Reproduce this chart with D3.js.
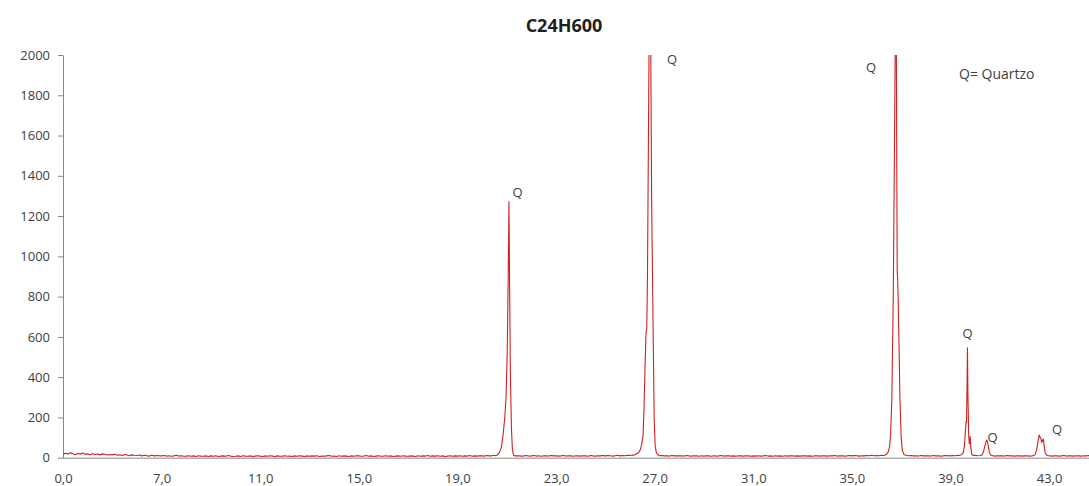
<!DOCTYPE html>
<html>
<head>
<meta charset="utf-8">
<script src="https://cdn.jsdelivr.net/npm/d3@7"></script>
<style>
  html, body { margin: 0; padding: 0; background: #fff; }
  svg { display: block; }
  text { font-family: "Open Sans", "DejaVu Sans", sans-serif; }
</style>
</head>
<body>
<svg id="chart" width="1089" height="486"></svg>
<script>
// ---- Data ---------------------------------------------------------------
const chartTitle = "C24H600";

// Background scan: 2θ grid starting at scanStart, stepping scanStep
const scanStart = 3.0;
const scanStep = 0.1;
const backgroundCounts = [
  16,22,18,24,20,15,21,19,23,17,   // 3
  19,15,20,16,18,14,19,17,13,16,   // 4
  14,17,12,15,11,16,13,10,14,12,   // 5
  11,13,9,12,10,8,12,9,11,10,      // 6
  9,11,8,10,7,9,12,8,10,7,         // 7
  8,10,7,9,6,10,8,7,9,6,           // 8
  9,7,10,6,8,9,7,11,8,6,           // 9
  7,9,6,10,8,7,9,6,8,10,           // 10
  8,6,9,7,10,8,6,9,7,8,            // 11
  10,7,8,6,9,7,10,8,6,9,           // 12
  7,9,8,10,6,8,7,9,11,7,           // 13
  8,6,10,7,9,8,6,9,7,10,           // 14
  9,7,8,11,7,9,6,8,10,7,           // 15
  8,10,7,9,6,8,9,7,10,8,           // 16
  7,9,8,6,10,7,9,8,11,7,           // 17
  9,8,10,7,9,6,8,10,7,9,           // 18
  8,10,7,9,8,11,7,9,8,10,          // 19
  9,8,11,9,10,12,10,9,11,10,       // 20
  10,9,8,11,9,10,8,9,11,8,         // 21
  9,11,8,10,7,9,10,8,11,9,         // 22
  10,8,9,11,8,10,9,7,10,9,         // 23
  8,10,9,7,11,9,8,10,9,11,         // 24
  9,11,10,8,10,12,9,11,10,12,      // 25
  11,13,12,14,12,13,14,12,13,12,   // 26
  14,12,10,11,9,10,8,11,9,10,      // 27
  9,10,8,11,9,8,10,9,7,10,         // 28
  8,10,9,7,10,8,9,11,8,9,          // 29
  10,8,9,7,10,9,8,10,9,7,          // 30
  9,8,10,8,9,11,8,9,7,10,          // 31
  8,9,7,10,8,9,10,8,9,8,           // 32
  9,10,8,9,7,10,9,8,10,9,          // 33
  8,10,9,11,8,9,10,8,9,11,         // 34
  9,11,10,8,10,9,11,10,12,10,      // 35
  11,10,12,11,13,12,14,13,12,13,   // 36
  14,13,12,10,11,9,10,8,11,9,      // 37
  9,10,8,11,9,10,8,9,11,10,        // 38
  9,11,10,12,11,12,11,12,10,11,    // 39
  12,10,11,9,10,11,10,9,8,10,      // 40
  9,10,8,11,9,10,8,9,10,8,         // 41
  9,10,8,9,11,10,9,10,11,9,        // 42
  10,8,9,10,8,9,11,8,10,9,         // 43
  8,10,9,8,10,9,11,8,10,9          // 44
];

// Reflection profiles (2θ, counts)
const peak1Angles = [20.55,20.62,20.70,20.78,20.85,20.92,20.97,21.02,21.06,21.09,21.12,21.15,21.19,21.23,21.28,21.35];
const peak1Counts = [10,14,25,50,110,200,290,520,900,1272,800,400,150,40,12,9];

const peak2Angles = [26.15,26.25,26.35,26.42,26.48,26.53,26.57,26.61,26.65,26.68,26.71,26.81,26.88,26.94,26.98,27.02,27.07,27.15];
const peak2Counts = [12,18,25,40,70,110,250,450,620,640,900,2700,1250,620,200,60,25,13];

const peak3Angles = [36.35,36.42,36.48,36.53,36.57,36.62,36.68,36.79,36.84,36.855,36.88,36.95,37.00,37.05,37.12,37.20];
const peak3Counts = [13,18,30,55,110,280,800,2500,920,900,780,300,100,35,15,12];

const peak4Angles = [39.35,39.45,39.52,39.57,39.61,39.635,39.65,39.67,39.69,39.71,39.74,39.765,39.78,39.80,39.82,39.86,39.92];
const peak4Counts = [11,15,25,60,140,180,175,330,546,300,110,70,75,105,60,18,11];

const peak5Angles = [40.20,40.28,40.34,40.39,40.43,40.47,40.50,40.54,40.58,40.64,40.72];
const peak5Counts = [11,14,30,55,75,88,80,55,25,12,10];

const peak6Angles = [42.35,42.43,42.49,42.55,42.60,42.64,42.67,42.70,42.74,42.77,42.80,42.84,42.90,42.95];
const peak6Counts = [10,15,35,80,113,100,95,75,88,92,60,25,12,10];

// Axis ticks
const xTickValues = [3,7,11,15,19,23,27,31,35,39,43];
const xTickLabels = ["0,0","7,0","11,0","15,0","19,0","23,0","27,0","31,0","35,0","39,0","43,0"];
const yTickValues = [0,200,400,600,800,1000,1200,1400,1600,1800,2000];

// Phase markers
const markerAngles = [21.44,27.71,35.78,39.69,40.71,43.32];
const markerCounts = [1315,1976,1938,617,100,138];
const markerText = "Q";
const legendText = "Q= Quartzo";

// ---- Build the series ---------------------------------------------------
const peaks = [
  [peak1Angles, peak1Counts], [peak2Angles, peak2Counts], [peak3Angles, peak3Counts],
  [peak4Angles, peak4Counts], [peak5Angles, peak5Counts], [peak6Angles, peak6Counts]
];
const windows = peaks.map(([a]) => [a[0], a[a.length - 1]]);
let points = backgroundCounts
  .map((c, i) => ({ x: +(scanStart + i * scanStep).toFixed(2), y: c }))
  .filter(p => !windows.some(([lo, hi]) => p.x >= lo && p.x <= hi));
peaks.forEach(([a, c]) => a.forEach((x, i) => points.push({ x, y: c[i] })));
points.sort((p, q) => p.x - q.x);

// ---- Layout -------------------------------------------------------------
const plot = { left: 63, right: 1089, top: 55, bottom: 457.7 };

const svg = d3.select("#chart");
const x = d3.scaleLinear().domain([3, 44.62]).range([plot.left, plot.right]);
const y = d3.scaleLinear().domain([0, 2000]).range([plot.bottom, plot.top]);

const axisColor = "#888888";
const textColor = "#404040";

// Title
svg.append("text")
  .attr("x", 564).attr("y", 32)
  .attr("text-anchor", "middle")
  .attr("font-size", 18).attr("font-weight", 700)
  .attr("fill", "#1e1e1e")
  .text(chartTitle);

// X axis (category-style labels, no ticks)
const gx = svg.append("g")
  .attr("transform", `translate(0,${plot.bottom})`)
  .call(d3.axisBottom(x)
    .tickValues(xTickValues)
    .tickFormat((d, i) => xTickLabels[i])
    .tickSize(0).tickSizeOuter(0).tickPadding(16));
gx.select(".domain").attr("stroke", axisColor).attr("d", `M${plot.left},0.5H${plot.right}`);
gx.selectAll("text").attr("font-size", 13).attr("fill", textColor).attr("font-family", null);

// Y axis
const gy = svg.append("g")
  .attr("transform", `translate(${plot.left},0)`)
  .call(d3.axisLeft(y).tickValues(yTickValues).tickFormat(d3.format("d"))
    .tickSize(5).tickSizeOuter(0).tickPadding(8));
gy.select(".domain").attr("stroke", axisColor);
gy.selectAll(".tick line").attr("stroke", axisColor);
gy.selectAll("text").attr("font-size", 13).attr("fill", textColor).attr("font-family", null);

// Trace, clipped to the plot area
svg.append("clipPath").attr("id", "plot-clip")
  .append("rect")
  .attr("x", plot.left).attr("y", plot.top)
  .attr("width", plot.right - plot.left).attr("height", plot.bottom - plot.top + 2);

svg.append("path")
  .datum(points)
  .attr("clip-path", "url(#plot-clip)")
  .attr("fill", "none")
  .attr("stroke", "#d21f1f")
  .attr("stroke-width", 1.1)
  .attr("stroke-linejoin", "round")
  .attr("d", d3.line().x(d => x(d.x)).y(d => y(d.y)));

// Phase markers
svg.append("g").selectAll("text")
  .data(markerAngles)
  .join("text")
  .attr("x", d => x(d))
  .attr("y", (d, i) => y(markerCounts[i]))
  .attr("dy", "0.35em")
  .attr("text-anchor", "middle")
  .attr("font-size", 13)
  .attr("fill", textColor)
  .text(markerText);

// Legend note
svg.append("text")
  .attr("x", 959).attr("y", 74).attr("dy", "0.35em")
  .attr("font-size", 14)
  .attr("fill", textColor)
  .text(legendText);
</script>
</body>
</html>
